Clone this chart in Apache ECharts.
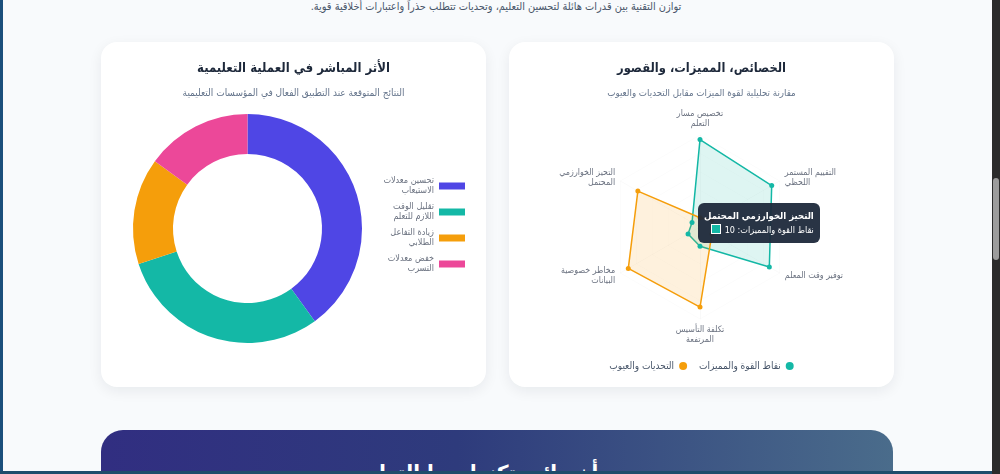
<!DOCTYPE html>
<html lang="ar">
<head>
<meta charset="utf-8">
<script src="https://cdn.jsdelivr.net/npm/echarts@6/dist/echarts.min.js"></script>
<style>
  html, body { margin:0; padding:0; width:1000px; height:474px; overflow:hidden; background:#f8fafc; font-family:"DejaVu Sans Condensed", "DejaVu Sans", sans-serif; }
  .intro { position:absolute; top:0px; left:0; width:992px; text-align:center; font-size:10.9px; color:#475569; direction:rtl; }
  .card { position:absolute; top:42px; width:385px; height:345px; background:#fff; border-radius:16px; box-shadow:0 4px 14px rgba(15,23,42,0.07); }
  #donut { left:101px; }
  #radar { left:509px; }
  .banner { position:absolute; left:101px; top:430px; width:792px; height:80px; border-radius:22px 22px 0 0; background:linear-gradient(90deg,#312e81 0%,#2e3b7c 45%,#4a6c8b 100%); color:#fff; text-align:center; font-weight:bold; font-size:22px; direction:rtl; }
  .banner span { position:absolute; left:0; right:0; top:31px; }
  .edge { position:absolute; left:0; top:0; width:3px; height:474px; background:#1b4f7c; }
  .strip { position:absolute; left:0; top:471px; width:992px; height:3px; background:#1e4d6b; }
  .sb { position:absolute; left:992px; top:0; width:8px; height:474px; background:#2b2b2b; }
  .thumb { position:absolute; left:993px; top:178px; width:6px; height:82px; background:#9c9c9c; border-radius:3px; }
</style>
</head>
<body>
<div class="edge"></div>
<div class="intro">توازن التقنية بين قدرات هائلة لتحسين التعليم، وتحديات تتطلب حذراً واعتبارات أخلاقية قوية.</div>
<div class="card" id="donut"></div>
<div class="card" id="radar"></div>
<div class="banner"><span>دور أخصائي تكنولوجيا التعليم</span></div>
<div class="strip"></div>
<div class="sb"></div><div class="thumb"></div>
<script>
// ---- Data ----
const donutTitle = 'الأثر المباشر في العملية التعليمية';
const donutSubtitle = 'النتائج المتوقعة عند التطبيق الفعال في المؤسسات التعليمية';
const impactCategories = ['تحسين معدلات الاستيعاب', 'تقليل الوقت اللازم للتعلم', 'زيادة التفاعل الطلابي', 'خفض معدلات التسرب'];
const impactLabelLines = [['تحسين معدلات', 'الاستيعاب'], ['تقليل الوقت', 'اللازم للتعلم'], ['زيادة التفاعل', 'الطلابي'], ['خفض معدلات', 'التسرب']];
const impactValues = [40, 30, 15, 15];
const impactColors = ['#4f46e5', '#14b8a6', '#f59e0b', '#ec4899'];

const radarTitle = 'الخصائص، المميزات، والقصور';
const radarSubtitle = 'مقارنة تحليلية لقوة الميزات مقابل التحديات والعيوب';
// listed clockwise starting at the top
const radarIndicators = ['تخصيص مسار التعلم', 'التقييم المستمر اللحظي', 'توفير وقت المعلم', 'تكلفة التأسيس المرتفعة', 'مخاطر خصوصية البيانات', 'التحيز الخوارزمي المحتمل'];
const radarIndicatorLines = [['تخصيص مسار', 'التعلم'], ['التقييم المستمر', 'اللحظي'], ['توفير وقت المعلم'], ['تكلفة التأسيس', 'المرتفعة'], ['مخاطر خصوصية', 'البيانات'], ['التحيز الخوارزمي', 'المحتمل']];
const strengthsName = 'نقاط القوة والمميزات';
const strengthsValues = [95, 90, 87, 21, 15, 10];
const challengesName = 'التحديات والعيوب';
const challengesValues = [10, 15, 15, 87, 90, 78];
const radarMax = 100;
const tooltipIndex = 5;

const FONT = '"DejaVu Sans Condensed", "DejaVu Sans", sans-serif';
const CSSFONT = FONT.replace(/"/g, "'");

// ECharts places radar indicators counter-clockwise; reorder so the chart reads clockwise
const order = radarIndicators.map((_, i) => (radarIndicators.length - i) % radarIndicators.length);
const reord = arr => order.map(i => arr[i]);

// ---- Donut ----
const donut = echarts.init(document.getElementById('donut'));
donut.setOption({
  animation: false,
  title: {
    text: donutTitle, subtext: donutSubtitle, left: 'center', top: 15, itemGap: 13,
    textStyle: { fontSize: 13, fontWeight: 'bold', color: '#1e293b', fontFamily: FONT },
    subtextStyle: { fontSize: 10, color: '#64748b', fontFamily: FONT }
  },
  legend: {
    orient: 'vertical', right: 16, top: 129, align: 'right',
    itemWidth: 26, itemHeight: 7, itemGap: 6, icon: 'rect',
    data: impactCategories,
    formatter: name => impactLabelLines[impactCategories.indexOf(name)].join('\n'),
    textStyle: { fontSize: 9, color: '#6b7280', lineHeight: 10, fontFamily: FONT }
  },
  series: [{
    type: 'pie', radius: [74.5, 114.5], center: [146.5, 186.5],
    startAngle: 90, clockwise: true, silent: true,
    label: { show: false }, labelLine: { show: false },
    data: impactCategories.map((n, i) => ({ name: n, value: impactValues[i], itemStyle: { color: impactColors[i] } }))
  }]
});

// ---- Radar ----
const radar = echarts.init(document.getElementById('radar'));
radar.setOption({
  animation: false,
  title: {
    text: radarTitle, subtext: radarSubtitle, left: 'center', top: 15, itemGap: 13,
    textStyle: { fontSize: 12.8, fontWeight: 'bold', color: '#1e293b', fontFamily: FONT },
    subtextStyle: { fontSize: 9.7, color: '#64748b', fontFamily: FONT }
  },
  legend: {
    bottom: 11, left: 'center', align: 'right', icon: 'circle', itemWidth: 8, itemHeight: 8, itemGap: 12,
    data: [challengesName, strengthsName],
    textStyle: { fontSize: 10, color: '#475569', fontFamily: FONT }
  },
  tooltip: {
    trigger: 'item', alwaysShowContent: true, triggerOn: 'none',
    position: () => [189, 161],
    backgroundColor: 'rgba(30,41,59,0.95)', borderWidth: 0, padding: [5, 6],
    extraCssText: 'border-radius:6px;box-shadow:none;direction:rtl;text-align:right;',
    formatter: p => {
      const i = tooltipIndex;
      return '<div style="font-weight:bold;font-size:9.5px;color:#fff;line-height:15px;font-family:' + CSSFONT + '">' + radarIndicators[i] + '</div>' +
        '<div style="font-size:9px;color:#fff;line-height:15px;font-family:' + CSSFONT + '">' + strengthsName + ': ' + strengthsValues[i] +
        ' <span style="display:inline-block;width:8px;height:8px;background:#14b8a6;border:1px solid #fff;vertical-align:-1px;margin-right:1px"></span></div>';
    }
  },
  radar: {
    center: [191, 185], radius: 92, startAngle: 90, shape: 'polygon',
    indicator: reord(radarIndicators).map(n => ({ name: n, max: radarMax, min: 0 })),
    axisName: {
      color: '#6b7280', fontSize: 8.8, lineHeight: 10, fontFamily: FONT,
      formatter: n => radarIndicatorLines[radarIndicators.indexOf(n)].join('\n')
    },
    nameGap: 6,
    splitNumber: 5,
    axisLine: { lineStyle: { color: 'rgba(0,0,0,0.025)' } },
    splitLine: { lineStyle: { color: 'rgba(0,0,0,0.015)' } },
    splitArea: { show: false }
  },
  series: [
    {
      type: 'radar', name: strengthsName, symbol: 'circle', symbolSize: 5,
      itemStyle: { color: '#14b8a6' }, lineStyle: { color: '#14b8a6', width: 1.5 },
      areaStyle: { color: 'rgba(20,184,166,0.2)' },
      data: [{ name: strengthsName, value: reord(strengthsValues) }]
    },
    {
      type: 'radar', name: challengesName, symbol: 'circle', symbolSize: 5,
      itemStyle: { color: '#f59e0b' }, lineStyle: { color: '#f59e0b', width: 1.5 },
      areaStyle: { color: 'rgba(245,158,11,0.2)' },
      data: [{ name: challengesName, value: reord(challengesValues) }]
    }
  ]
});
radar.dispatchAction({ type: 'showTip', seriesIndex: 0, dataIndex: 0 });
</script>
</body>
</html>
